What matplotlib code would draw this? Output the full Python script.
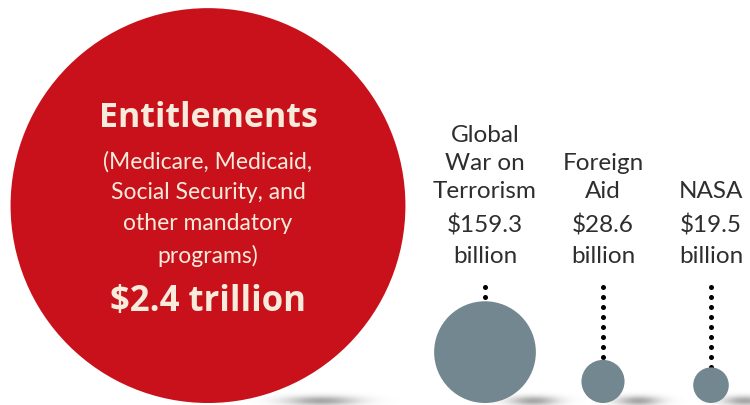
import numpy as np
import matplotlib
matplotlib.use("Agg")
import matplotlib.pyplot as plt
from matplotlib.patches import Circle

# Spending, in billions of dollars
categories = ["Entitlements", "Global War on Terrorism", "Foreign Aid", "NASA"]
values_bn = [2400.0, 159.3, 28.6, 19.5]
value_labels = ["$2.4 trillion", "$159.3\nbillion", "$28.6\nbillion", "$19.5\nbillion"]
name_labels = ["Global\nWar on\nTerrorism", "Foreign\nAid", "NASA"]
entitlement_note = "(Medicare, Medicaid,\nSocial Security, and\nother mandatory\nprograms)"

# Layout (pixel canvas)
W, H = 750, 406
x_centres = [208, 485, 603, 711]
baseline = 404
px_per_sqrt_bn = 4.03          # circle area proportional to spending
RED = "#c8111b"
GREY = "#72878f"
CREAM = "#f7ebdc"
INK = "#2e2e2e"
FONT = "Lato"
BOLD_FONT = "Open Sans"

fig = plt.figure(figsize=(W / 100, H / 100), dpi=100)
ax = fig.add_axes([0, 0, 1, 1])
ax.set_xlim(0, W)
ax.set_ylim(H, 0)
ax.axis("off")

radii = [px_per_sqrt_bn * np.sqrt(v) for v in values_bn]


def soft_shadow(cx, r):
    # short blurred grey shadow trailing right from a circle's base
    mx = cx + 0.45 * r + 25
    sx = 20 + 0.08 * r
    my, sy = baseline - 2, 5.0
    x0, x1 = mx - 3 * sx, mx + 3 * sx
    y0, y1 = my - 4 * sy, H
    xs = np.linspace(x0, x1, 200)
    ys = np.linspace(y0, y1, 60)
    X, Y = np.meshgrid(xs, ys)
    alpha = 0.6 * np.exp(-((X - mx) / sx) ** 2 - ((Y - my) / sy) ** 2)
    img = np.zeros(X.shape + (4,))
    img[..., :3] = 0.42
    img[..., 3] = alpha
    ax.imshow(img, extent=(x0, x1, y1, y0), origin="upper",
              interpolation="bilinear", zorder=1, aspect="auto")


for i, (cx, r) in enumerate(zip(x_centres, radii)):
    soft_shadow(cx, r)
    colour = RED if i == 0 else GREY
    ax.add_patch(Circle((cx, baseline - r), r, facecolor=colour,
                        edgecolor="none", zorder=3))

# Entitlements text inside the red circle
cx0 = x_centres[0]
ax.text(cx0, 118, categories[0], ha="center", va="center", color=CREAM,
        fontsize=24.5, fontweight="bold", family=BOLD_FONT, zorder=5)
ax.text(cx0, 209, entitlement_note, ha="center", va="center", color=CREAM,
        fontsize=16.5, family=FONT, linespacing=1.58, zorder=5)
ax.text(cx0, 302, value_labels[0], ha="center", va="center", color=CREAM,
        fontsize=25, fontweight="bold", family=BOLD_FONT, zorder=5)

# Labels and dotted leaders for the smaller items
for j, i in enumerate(range(1, 4)):
    cx, r = x_centres[i], radii[i]
    ax.text(cx, 202, name_labels[j], ha="center", va="bottom", color=INK,
            fontsize=17.5, family=FONT, linespacing=1.42, zorder=5)
    ax.text(cx, 267, value_labels[i], ha="center", va="bottom", color=INK,
            fontsize=17.5, family=FONT, linespacing=1.58, zorder=5)
    top = baseline - 2 * r
    dots = np.arange(288, top + 1.5, 10)
    ax.scatter(np.full_like(dots, cx), dots, s=13, color="black", zorder=2,
               linewidths=0)

fig.savefig("out.png", dpi=100)
